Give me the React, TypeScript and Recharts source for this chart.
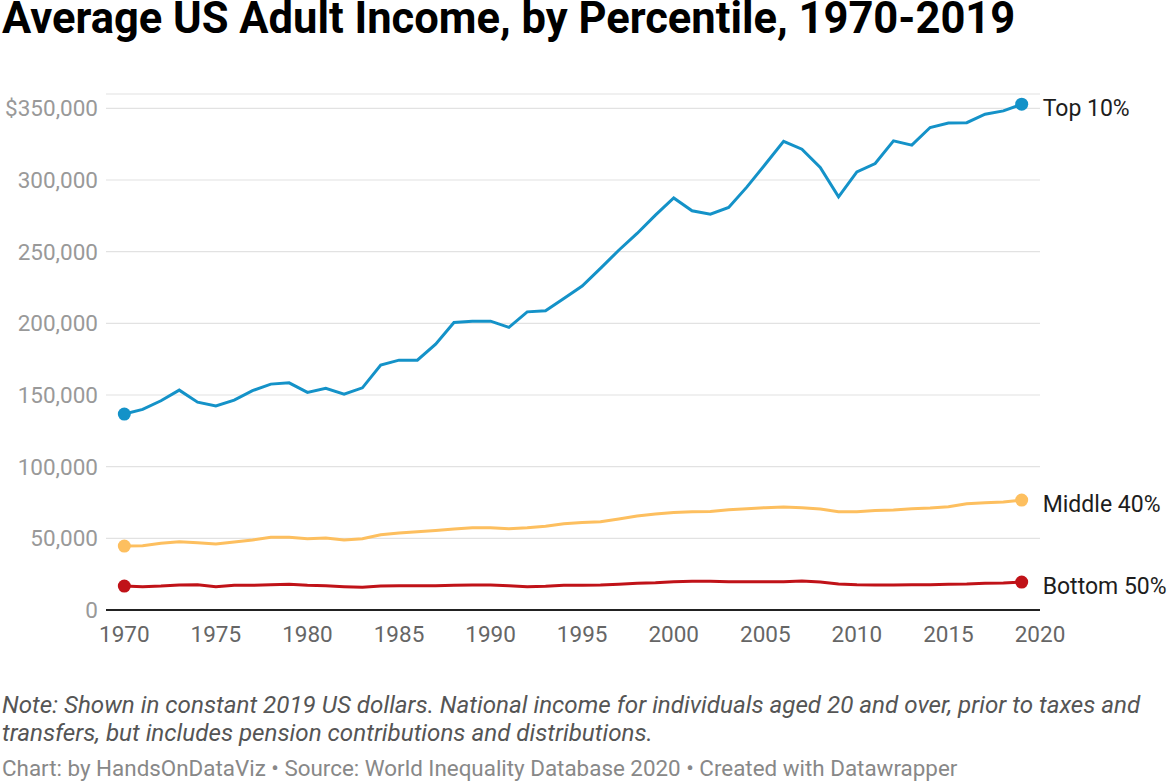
import { LineChart, Line, XAxis, YAxis, CartesianGrid } from "recharts";

const years = [
  1970, 1971, 1972, 1973, 1974, 1975, 1976, 1977, 1978, 1979,
  1980, 1981, 1982, 1983, 1984, 1985, 1986, 1987, 1988, 1989,
  1990, 1991, 1992, 1993, 1994, 1995, 1996, 1997, 1998, 1999,
  2000, 2001, 2002, 2003, 2004, 2005, 2006, 2007, 2008, 2009,
  2010, 2011, 2012, 2013, 2014, 2015, 2016, 2017, 2018, 2019,
];

const top10 = [
  136700, 140000, 146000, 153400, 145000, 142300, 146400, 153000, 157600, 158500,
  151800, 154600, 150600, 155000, 170900, 174300, 174300, 185500, 200600, 201500,
  201500, 197200, 208000, 208700, 217400, 226000, 238300, 251000, 262700, 275500,
  287500, 278500, 276200, 280800, 295200, 311000, 327000, 321500, 308700, 288200,
  305700, 311500, 327300, 324300, 336600, 339800, 340000, 345900, 348200, 352900,
];

const middle40 = [
  44600, 44900, 46500, 47600, 46900, 46000, 47400, 48800, 50700, 50700,
  49700, 50200, 48800, 49700, 52500, 53700, 54600, 55500, 56500, 57400,
  57400, 56700, 57400, 58400, 60200, 61000, 61600, 63500, 65600, 66900,
  68100, 68600, 68800, 70000, 70700, 71400, 71800, 71400, 70400, 68600,
  68600, 69500, 69700, 70700, 71100, 72000, 74100, 74800, 75300, 76700,
];

const bottom50 = [
  16700, 16300, 16700, 17400, 17600, 16300, 17200, 17200, 17600, 17900,
  17200, 17000, 16300, 15800, 16700, 17000, 17000, 17000, 17200, 17400,
  17400, 17000, 16300, 16500, 17200, 17200, 17400, 17900, 18600, 19000,
  19700, 20000, 20000, 19700, 19700, 19700, 19700, 20200, 19500, 18100,
  17600, 17400, 17400, 17600, 17600, 17900, 18100, 18600, 18800, 19500,
];

const seriesKeys = ["top", "middle", "bottom"];
const seriesNames = ["Top 10%", "Middle 40%", "Bottom 50%"];
const seriesColors = ["#1492c8", "#fdbf5f", "#c01218"];

const xTicks = [1970, 1975, 1980, 1985, 1990, 1995, 2000, 2005, 2010, 2015, 2020];
const yTicks = [0, 50000, 100000, 150000, 200000, 250000, 300000, 350000];

const data = years.map((year, i) => ({
  year,
  top: top10[i],
  middle: middle40[i],
  bottom: bottom50[i],
}));

const last = years.length - 1;

function fmtY(v: number): string {
  const s = v.toLocaleString("en-US");
  return v === 350000 ? `$${s}` : s;
}

function endDot(color: string) {
  return (props: any) => {
    const { cx, cy, index } = props;
    if (index !== 0 && index !== last) return <g key={`d${index}`} />;
    return <circle key={`d${index}`} cx={cx} cy={cy} r={6.5} fill={color} />;
  };
}

function endLabel(name: string) {
  return (props: any) => {
    const { x, y, index } = props;
    if (index !== last) return null;
    return (
      <text x={x + 21} y={y + 4} dy="0.35em" fill="#1d1d1d" fontSize={23}>
        {name}
      </text>
    );
  };
}

export default function App() {
  return (
    <div
      style={{
        position: "absolute",
        left: 0,
        top: 0,
        width: 1171,
        height: 782,
        background: "#fff",
        fontFamily: "Roboto, sans-serif",
        overflow: "hidden",
      }}
    >
      <svg
        width={1171}
        height={50}
        style={{ position: "absolute", left: 0, top: 0 }}
      >
        <text x={2} y={33} fontSize={43.5} fontWeight={700} fill="#000">
          Average US Adult Income, by Percentile, 1970-2019
        </text>
      </svg>

      <div style={{ position: "absolute", left: 0, top: 0 }}>
        <LineChart
          width={1171}
          height={680}
          data={data}
          margin={{ top: 94, right: 131, bottom: 40, left: 0 }}
          style={{ overflow: "visible" }}
        >
          <CartesianGrid vertical={false} stroke="#e2e2e2" strokeWidth={1.2} />
          <XAxis
            dataKey="year"
            type="number"
            domain={[1969, 2020]}
            ticks={xTicks}
            height={30}
            axisLine={{ stroke: "#222", strokeWidth: 2.2 }}
            tickLine={false}
            tickMargin={10}
            tick={{ fill: "#666", fontSize: 22.5 }}
          />
          <YAxis
            type="number"
            domain={[0, 360000]}
            ticks={yTicks}
            width={106}
            axisLine={false}
            tickLine={false}
            tick={{ fill: "#999", fontSize: 22.5 }}
            tickFormatter={(v: number) => fmtY(v)}
          />
          {seriesKeys.map((k, i) => (
            <Line
              key={k}
              type="linear"
              dataKey={k}
              stroke={seriesColors[i]}
              strokeWidth={3}
              dot={endDot(seriesColors[i])}
              activeDot={false}
              label={endLabel(seriesNames[i])}
              isAnimationActive={false}
            />
          ))}
        </LineChart>
      </div>

      <div
        style={{
          position: "absolute",
          left: 2,
          top: 691,
          fontSize: 24.2,
          fontStyle: "italic",
          color: "#555",
          lineHeight: "28px",
          whiteSpace: "nowrap",
        }}
      >
        Note: Shown in constant 2019 US dollars. National income for individuals aged 20 and over, prior to taxes and
        <br />
        transfers, but includes pension contributions and distributions.
      </div>
      <div
        style={{
          position: "absolute",
          left: 2,
          top: 757,
          fontSize: 22.4,
          lineHeight: "22px",
          color: "#888",
          whiteSpace: "nowrap",
        }}
      >
        Chart: by HandsOnDataViz • Source: World Inequality Database 2020 • Created with Datawrapper
      </div>
    </div>
  );
}
